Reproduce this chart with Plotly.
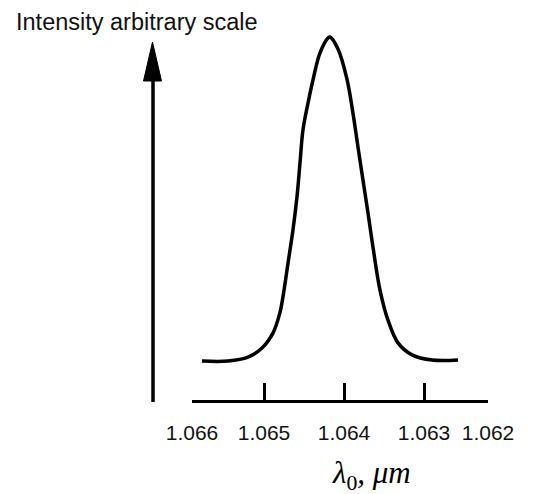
import plotly.graph_objects as go

# wavelength (um) and relative intensity
wavelength = [1.065775, 1.06545, 1.0652, 1.065025, 1.064888, 1.0648, 1.064763,
              1.0647, 1.064638, 1.064588, 1.06455, 1.064513, 1.06445, 1.064388,
              1.0643, 1.0642, 1.064175, 1.064075, 1.063963, 1.063888, 1.063825,
              1.063763, 1.0637, 1.063638, 1.06355, 1.06345, 1.063325, 1.06315,
              1.0629, 1.062575]
intensity = [0.0, 0.0, 0.012, 0.040, 0.086, 0.150, 0.198,
             0.302, 0.404, 0.506, 0.611, 0.713, 0.796, 0.867,
             0.951, 0.997, 1.0, 0.963, 0.870, 0.765, 0.660,
             0.559, 0.457, 0.352, 0.219, 0.126, 0.056, 0.019,
             0.003, 0.003]

tick_vals = [1.0659, 1.065, 1.064, 1.063, 1.0622]
tick_text = ["1.066", "1.065", "1.064", "1.063", "1.062"]
y_title = "Intensity arbitrary scale"
x_title = "<i>λ</i><sub>0</sub><i>, μm</i>"

W, H = 535, 494
L, R, T, B = 192, 47, 30, 94
pw, ph = W - L - R, H - T - B

def px(x):
    return (x - L) / pw

def py(y):
    return (H - B - y) / ph

fig = go.Figure()
fig.add_trace(go.Scatter(x=wavelength, y=intensity, mode="lines",
                         line=dict(color="black", width=3.5, shape="spline", smoothing=1.0),
                         hoverinfo="skip", showlegend=False))

fig.update_layout(
    width=W, height=H,
    margin=dict(l=L, r=R, t=T, b=B),
    paper_bgcolor="white", plot_bgcolor="white",
    font=dict(family="Liberation Sans, Arial, sans-serif", color="black"),
    xaxis=dict(range=[1.0659, 1.0622], tickvals=tick_vals, ticktext=tick_text,
               showgrid=False, zeroline=False, showline=True, linecolor="black",
               linewidth=3, ticks="inside", ticklen=17, tickwidth=3, tickcolor="black",
               tickfont=dict(size=21, color="#111"), ticklabelstandoff=12),
    yaxis=dict(range=[-0.1204, 1.0216], visible=False),
    shapes=[
        dict(type="line", xref="paper", yref="paper", x0=px(153), x1=px(153),
             y0=py(402), y1=py(78), line=dict(color="black", width=3.5)),
        dict(type="path", xref="paper", yref="paper",
             path=f"M {px(152.5)} {py(42)} L {px(143.5)} {py(81)} L {px(161.5)} {py(81)} Z",
             fillcolor="black", line=dict(color="black", width=1)),
    ],
    annotations=[
        dict(text=y_title, xref="paper", yref="paper", x=px(14), y=py(22),
             xanchor="left", yanchor="middle", showarrow=False,
             font=dict(size=23.5, color="#111")),
        dict(text=x_title, xref="paper", yref="paper", x=px(371), y=py(475),
             xanchor="center", yanchor="middle", showarrow=False,
             font=dict(size=31, family="Liberation Serif, Times New Roman, serif", color="black")),
    ],
)

fig.write_html("out.html", config={"displayModeBar": False},
               post_script="document.body.style.margin='0';")
